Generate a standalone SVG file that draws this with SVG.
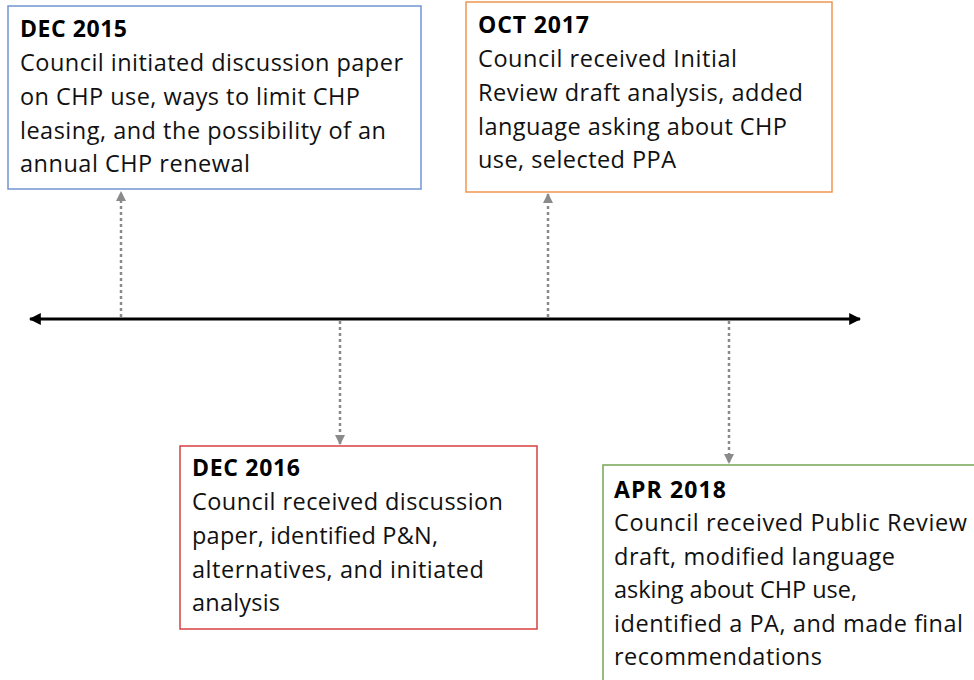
<svg xmlns="http://www.w3.org/2000/svg" width="974" height="680" viewBox="0 0 974 680">
<defs>
<style>
.box{fill:#fff;stroke-width:1.5}
.t{font-family:"Open Sans","Liberation Sans",sans-serif;font-size:23.5px;fill:#111}
.h{font-family:"Open Sans","Liberation Sans",sans-serif;font-size:23px;font-weight:bold;fill:#000}
.dot{stroke:#8a8a8a;stroke-width:2.5;stroke-dasharray:3 3;fill:none}
.axis{stroke:#000;stroke-width:3}
</style>
<marker id="ga" viewBox="0 0 10 10" refX="10" refY="5" markerWidth="4" markerHeight="4" orient="auto" markerUnits="strokeWidth"><path d="M0,0 L10,5 L0,10 z" fill="#8a8a8a"/></marker>
<marker id="ba" viewBox="0 0 10 10" refX="9" refY="5" markerWidth="4" markerHeight="4" orient="auto-start-reverse" markerUnits="strokeWidth"><path d="M0,0 L10,5 L0,10 z" fill="#000"/></marker>
</defs>
<rect width="974" height="680" fill="#fff"/>
<g id="connectors">
<line class="axis" x1="30" y1="319" x2="860" y2="319" marker-start="url(#ba)" marker-end="url(#ba)"/>
<line class="dot" x1="121" y1="317" x2="121" y2="191" marker-end="url(#ga)"/>
<line class="dot" x1="548" y1="317" x2="548" y2="193" marker-end="url(#ga)"/>
<line class="dot" x1="340" y1="321" x2="340" y2="445" marker-end="url(#ga)"/>
<line class="dot" x1="729" y1="321" x2="729" y2="464" marker-end="url(#ga)"/>
</g>
<g id="dec2015">
<rect class="box" x="8" y="6" width="413" height="183" stroke="#7294D4"/>
<text class="h" x="20" y="37" textLength="107">DEC 2015</text>
<text class="t" x="20" y="71" textLength="383">Council initiated discussion paper</text>
<text class="t" x="20" y="105" textLength="340">on CHP use, ways to limit CHP</text>
<text class="t" x="20" y="139" textLength="366">leasing, and the possibility of an</text>
<text class="t" x="20" y="172" textLength="230">annual CHP renewal</text>
</g>
<g id="oct2017">
<rect class="box" x="466" y="2" width="366" height="190" stroke="#F0964F"/>
<text class="h" x="478" y="33" textLength="111">OCT 2017</text>
<text class="t" x="478" y="67" textLength="259">Council received Initial</text>
<text class="t" x="478" y="101" textLength="325">Review draft analysis, added</text>
<text class="t" x="478" y="135" textLength="309">language asking about CHP</text>
<text class="t" x="478" y="168" textLength="198">use, selected PPA</text>
</g>
<g id="dec2016">
<rect class="box" x="180" y="446" width="357" height="183" stroke="#D94040"/>
<text class="h" x="192" y="476" textLength="108">DEC 2016</text>
<text class="t" x="192" y="510" textLength="311">Council received discussion</text>
<text class="t" x="192" y="544" textLength="246">paper, identified P&amp;N,</text>
<text class="t" x="192" y="578" textLength="292">alternatives, and initiated</text>
<text class="t" x="192" y="611" textLength="88">analysis</text>
</g>
<g id="apr2018">
<rect class="box" x="603" y="465" width="380" height="230" stroke="#76A555"/>
<text class="h" x="614" y="498" textLength="112">APR 2018</text>
<text class="t" x="614" y="531" textLength="353">Council received Public Review</text>
<text class="t" x="614" y="565" textLength="281">draft, modified language</text>
<text class="t" x="614" y="598" textLength="243">asking about CHP use,</text>
<text class="t" x="614" y="632" textLength="349">identified a PA, and made final</text>
<text class="t" x="614" y="665" textLength="208">recommendations</text>
</g>
</svg>
